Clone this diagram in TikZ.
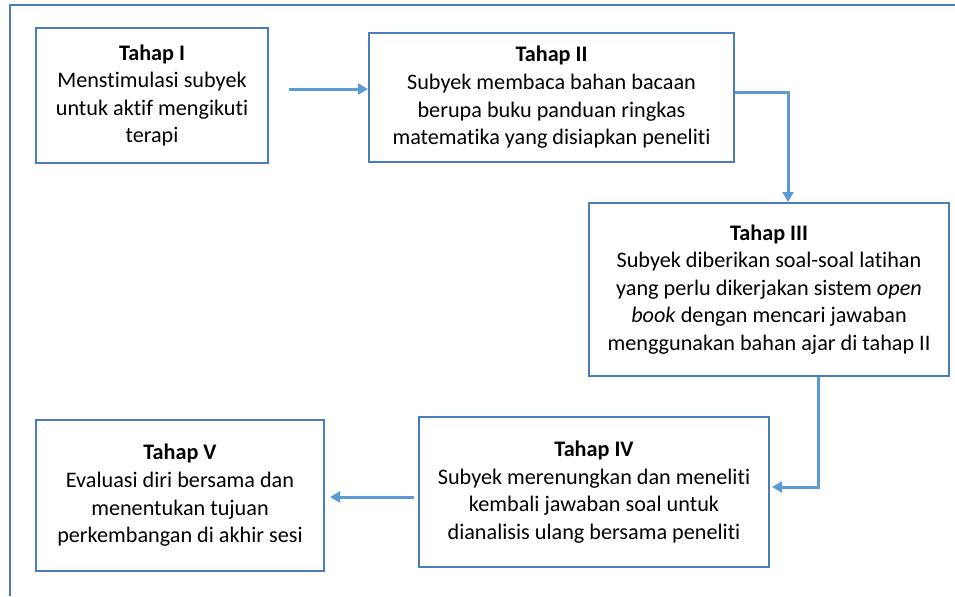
\documentclass[tikz,border=0pt]{standalone}
\usepackage{fontspec}
\setmainfont{Carlito}[Ligatures={NoCommon,NoRare,NoContextual}]
\usetikzlibrary{arrows.meta}
\definecolor{frameblue}{HTML}{4A7EBB}
\definecolor{arrowblue}{HTML}{5B9BD5}
\tikzset{
  stage/.style={draw=frameblue, line width=1pt, align=center, inner sep=0pt,
    font=\fontsize{11.1}{13.8}\selectfont},
  flow/.style={draw=arrowblue, line width=1.5pt, -{Triangle[length=5pt,width=5.5pt]}},
  outerframe/.style={draw=frameblue, line width=1.1pt}
}
\begin{document}
\begin{tikzpicture}[x=0.5pt, y=-0.5pt]
\useasboundingbox (0,0) rectangle (955,596);
\coordinate (fa) at (10,596);
\coordinate (fb) at (10,5);
\coordinate (fc) at (955,5);
\draw[outerframe] (fa) -- (fb) -- (fc);

\node[stage, minimum width=116pt, minimum height=67.5pt] (t1) at (152,95.5)
  {\textbf{Tahap I}\\Menstimulasi subyek\\untuk aktif mengikuti\\terapi};
\node[stage, minimum width=182.5pt, minimum height=64.5pt] (t2) at (551.5,97.5)
  {\textbf{Tahap II}\\Subyek membaca bahan bacaan\\berupa buku panduan ringkas\\matematika yang disiapkan peneliti};
\node[stage, minimum width=180pt, minimum height=86.5pt] (t3) at (769,289.5)
  {\textbf{Tahap III}\\Subyek diberikan soal-soal latihan\\yang perlu dikerjakan sistem \textit{open}\\\textit{book} dengan mencari jawaban\\menggunakan bahan ajar di tahap II};
\node[stage, minimum width=175pt, minimum height=75pt] (t4) at (594,492)
  {\textbf{Tahap IV}\\Subyek merenungkan dan meneliti\\kembali jawaban soal untuk\\dianalisis ulang bersama peneliti};
\node[stage, minimum width=144pt, minimum height=75.5pt] (t5) at (180,495.5)
  {\textbf{Tahap V}\\Evaluasi diri bersama dan\\menentukan tujuan\\perkembangan di akhir sesi};

\coordinate (s1) at (289,89);
\draw[flow] (s1) -- (s1 -| t2.west);

\coordinate (k2) at (788,92);
\draw[flow] (k2 -| t2.east) -- (k2) -- (k2 |- t3.north);

\coordinate (k3) at (818,487);
\draw[flow] (k3 |- t3.south) -- (k3) -- ([xshift=1pt]k3 -| t4.east);

\coordinate (s4) at (414,497);
\coordinate (e4) at (330,497);
\draw[flow] (s4) -- (e4);
\end{tikzpicture}
\end{document}
